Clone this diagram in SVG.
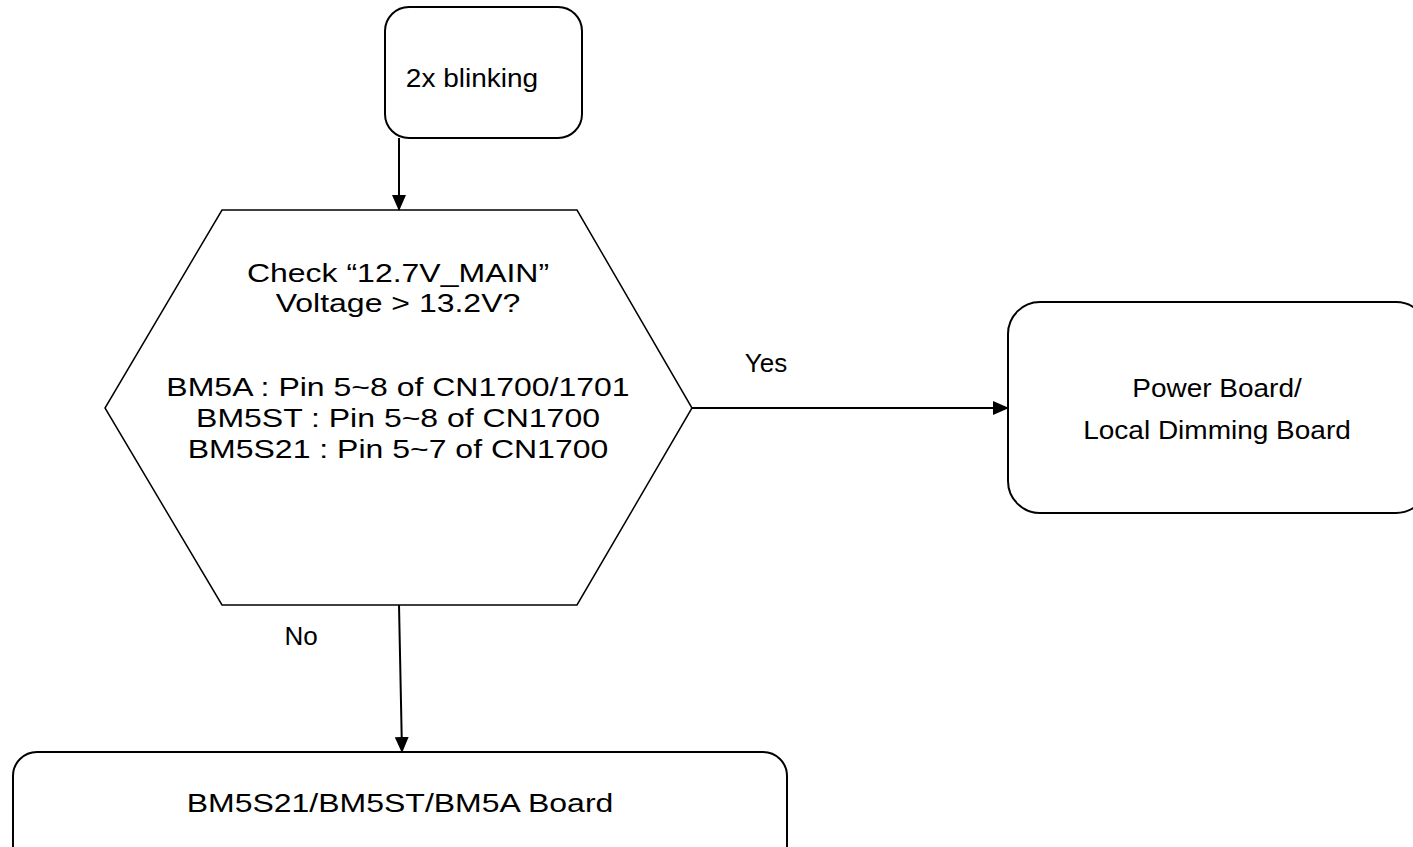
<svg xmlns="http://www.w3.org/2000/svg" width="1413" height="847" viewBox="0 0 1413 847">
<style>
.box{fill:#fff;stroke:#000;stroke-width:2}
.t{font-family:"Liberation Sans",Arial,sans-serif;font-size:25px;fill:#000;text-anchor:middle}
.l{font-size:26px}
.c{stroke:#000;stroke-width:2;fill:none}
</style>
<defs>
<marker id="ah" markerWidth="16" markerHeight="14" refX="15" refY="7" orient="auto" markerUnits="userSpaceOnUse" viewBox="0 0 16 14">
<path d="M0,0 L16,7 L0,14 z" fill="#000"/>
</marker>
</defs>
<rect width="1413" height="847" fill="#fff"/>
<g id="start">
<rect class="box" x="385" y="7" width="197" height="131" rx="24"/>
<g transform="translate(472,0) scale(1.12,1)">
<text class="t" x="0" y="87">2x blinking</text>
</g>
</g>
<g id="decision">
<polygon class="box" style="stroke-width:1.5" points="222,210 577,210 692,408 577,605 222,605 105,408"/>
<g transform="translate(398,0) scale(1.28,1)">
<text class="t" x="0" y="282">Check “12.7V_MAIN”</text>
<text class="t" x="0" y="312">Voltage &gt; 13.2V?</text>
<text class="t" x="0" y="396">BM5A : Pin 5~8 of CN1700/1701</text>
<text class="t" x="0" y="427">BM5ST : Pin 5~8 of CN1700</text>
<text class="t" x="0" y="458">BM5S21 : Pin 5~7 of CN1700</text>
</g>
</g>
<g id="power">
<rect class="box" x="1008" y="302" width="420" height="211" rx="32"/>
<g transform="translate(1217,0) scale(1.12,1)">
<text class="t" x="0" y="397">Power Board/</text>
<text class="t" x="0" y="439">Local Dimming Board</text>
</g>
</g>
<g id="board">
<rect class="box" x="13" y="752" width="774" height="120" rx="24"/>
<g transform="translate(400,0) scale(1.28,1)">
<text class="t" x="0" y="812">BM5S21/BM5ST/BM5A Board</text>
</g>
</g>
<g id="connectors">
<line class="c" x1="399" y1="138" x2="399" y2="210" marker-end="url(#ah)"/>
<line class="c" x1="692" y1="408" x2="1008" y2="408" marker-end="url(#ah)"/>
<line class="c" x1="399" y1="605" x2="402" y2="752" marker-end="url(#ah)"/>
<text class="t l" x="766" y="372">Yes</text>
<text class="t l" x="301" y="645">No</text>
</g>
</svg>
